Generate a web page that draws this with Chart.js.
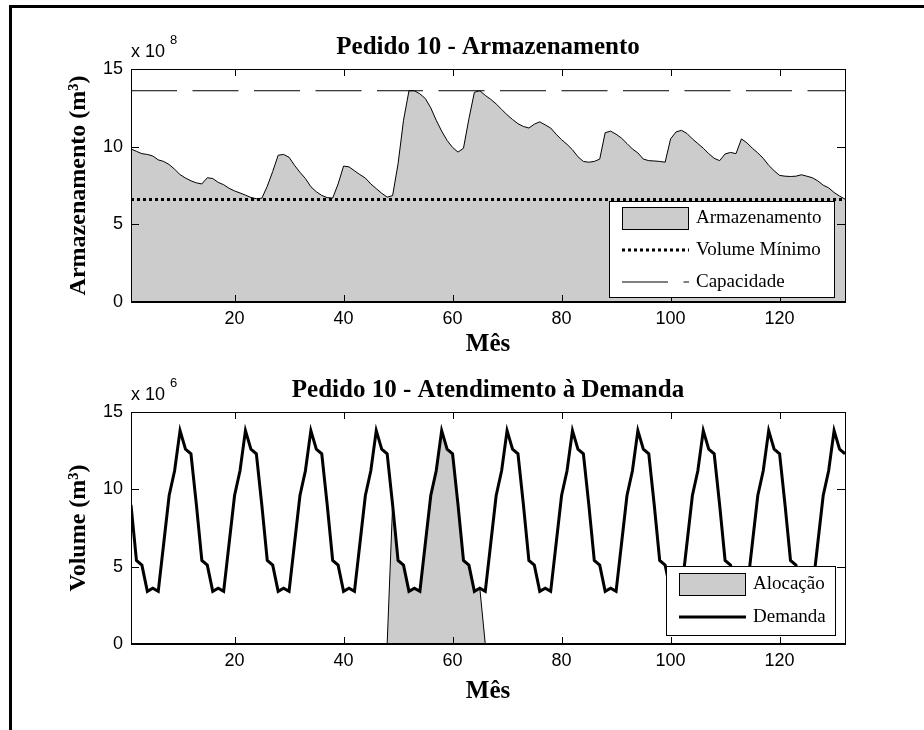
<!DOCTYPE html>
<html>
<head>
<meta charset="utf-8">
<title>Pedido 10</title>
<script src="https://cdn.jsdelivr.net/npm/chart.js@4.4.0/dist/chart.umd.min.js"></script>
<style>
  body { margin: 0; background: #fff; overflow: hidden; }
  #frame { position: absolute; left: 9px; top: 5px; width: 920px; height: 730px; border-top: 3px solid #000; border-left: 3px solid #000; }
  canvas { position: absolute; left: 0; }
  #storageChart { top: 0; }
  #demandChart { top: 365px; }
</style>
</head>
<body>
<div id="frame"></div>
<canvas id="storageChart" width="924" height="365"></canvas>
<canvas id="demandChart" width="924" height="365"></canvas>
<script>
// months 1..132
const months = Array.from({ length: 132 }, (_, i) => i + 1);
const xTicks = [20, 40, 60, 80, 100, 120];
const yTicks = [0, 5, 10, 15];

// storage, x 10^8 m3
const storage = [
  9.85, 9.7, 9.55, 9.5, 9.4, 9.15, 9.05, 8.85, 8.55, 8.2, 7.98, 7.8,
  7.67, 7.6, 8.0, 7.95, 7.7, 7.55, 7.32, 7.15, 7.02, 6.88, 6.73, 6.65,
  6.68, 7.45, 8.4, 9.45, 9.5, 9.32, 8.8, 8.35, 7.95, 7.42, 7.1, 6.86,
  6.72, 6.69, 7.6, 8.75, 8.7, 8.45, 8.2, 7.98, 7.6, 7.3, 7.0, 6.75,
  6.85, 8.9, 11.7, 13.6, 13.6, 13.4, 13.1, 12.5, 11.7, 11.0, 10.4, 9.95,
  9.65, 9.9, 11.8, 13.5, 13.6, 13.3, 13.05, 12.75, 12.4, 12.05, 11.75, 11.48,
  11.3, 11.2, 11.45, 11.6, 11.4, 11.2, 10.8, 10.45, 10.15, 9.8, 9.35, 9.05,
  9.0, 9.05, 9.2, 10.9, 11.0, 10.8, 10.55, 10.2, 9.85, 9.6, 9.2, 9.1,
  9.08, 9.05, 9.0, 10.5, 10.95, 11.05, 10.85, 10.5, 10.2, 9.9, 9.55, 9.25,
  9.1, 9.53, 9.63, 9.55, 10.5, 10.25, 9.9, 9.6, 9.25, 8.8, 8.45, 8.15,
  8.1, 8.08, 8.1, 8.19, 8.1, 8.0, 7.8, 7.52, 7.35, 7.05, 6.82, 6.62
];
const minVolume = 6.6;
const capacity = 13.6;

// demand and allocation, x 10^6 m3
const demand = [
  9.0, 5.4, 5.1, 3.4, 3.6, 3.4, 6.5, 9.6, 11.2, 13.8, 12.6, 12.3,
  9.0, 5.4, 5.1, 3.4, 3.6, 3.4, 6.5, 9.6, 11.2, 13.8, 12.6, 12.3,
  9.0, 5.4, 5.1, 3.4, 3.6, 3.4, 6.5, 9.6, 11.2, 13.8, 12.6, 12.3,
  9.0, 5.4, 5.1, 3.4, 3.6, 3.4, 6.5, 9.6, 11.2, 13.8, 12.6, 12.3,
  9.0, 5.4, 5.1, 3.4, 3.6, 3.4, 6.5, 9.6, 11.2, 13.8, 12.6, 12.3,
  9.0, 5.4, 5.1, 3.4, 3.6, 3.4, 6.5, 9.6, 11.2, 13.8, 12.6, 12.3,
  9.0, 5.4, 5.1, 3.4, 3.6, 3.4, 6.5, 9.6, 11.2, 13.8, 12.6, 12.3,
  9.0, 5.4, 5.1, 3.4, 3.6, 3.4, 6.5, 9.6, 11.2, 13.8, 12.6, 12.3,
  9.0, 5.4, 5.1, 3.4, 3.6, 3.4, 6.5, 9.6, 11.2, 13.8, 12.6, 12.3,
  9.0, 5.4, 5.1, 3.4, 3.6, 3.4, 6.5, 9.6, 11.2, 13.8, 12.6, 12.3,
  9.0, 5.4, 5.1, 3.4, 3.6, 3.4, 6.5, 9.6, 11.2, 13.8, 12.6, 12.3
];
const allocation = [
  0, 0, 0, 0, 0, 0, 0, 0, 0, 0, 0, 0,
  0, 0, 0, 0, 0, 0, 0, 0, 0, 0, 0, 0,
  0, 0, 0, 0, 0, 0, 0, 0, 0, 0, 0, 0,
  0, 0, 0, 0, 0, 0, 0, 0, 0, 0, 0, 0,
  9.0, 5.4, 5.1, 3.4, 3.6, 3.4, 6.5, 9.6, 11.2, 13.8, 12.6, 12.3,
  9.0, 5.4, 5.1, 3.4, 3.6, 0, 0, 0, 0, 0, 0, 0,
  0, 0, 0, 0, 0, 0, 0, 0, 0, 0, 0, 0,
  0, 0, 0, 0, 0, 0, 0, 0, 0, 0, 0, 0,
  0, 0, 0, 0, 0, 0, 0, 0, 0, 0, 0, 0,
  0, 0, 0, 0, 0, 0, 0, 0, 0, 0, 0, 0,
  0, 0, 0, 0, 0, 0, 0, 0, 0, 0, 0, 0
];

const serif = "'Liberation Serif', 'Times New Roman', serif";
const sans = "'Liberation Sans', Arial, sans-serif";
const gray = "#cccccc";

const toPoints = values => months.map((m, i) => ({ x: m, y: values[i] }));
const flatLine = v => [{ x: months[0], y: v }, { x: months[months.length - 1], y: v }];

// box, inward ticks, title, exponent and legend drawn like the matlab figure
const matlabAxes = {
  id: "matlabAxes",
  afterDatasetsDraw(chart, args, opts) {
    const { ctx, chartArea: a, scales: { x, y } } = chart;
    ctx.save();
    ctx.strokeStyle = "#000";
    ctx.lineWidth = 1;
    ctx.setLineDash([]);
    ctx.beginPath();
    xTicks.forEach(v => {
      const px = Math.round(x.getPixelForValue(v)) + 0.5;
      ctx.moveTo(px, a.bottom); ctx.lineTo(px, a.bottom - 7);
      ctx.moveTo(px, a.top); ctx.lineTo(px, a.top + 7);
    });
    yTicks.forEach(v => {
      const py = Math.round(y.getPixelForValue(v)) + 0.5;
      ctx.moveTo(a.left, py); ctx.lineTo(a.left + 8, py);
      ctx.moveTo(a.right, py); ctx.lineTo(a.right - 8, py);
    });
    ctx.stroke();
    ctx.strokeRect(a.left + 0.5, a.top + 0.5, a.right - a.left, a.bottom - a.top);
    ctx.lineWidth = 2;
    ctx.beginPath();
    ctx.moveTo(a.left, a.bottom);
    ctx.lineTo(a.right + 1, a.bottom);
    ctx.stroke();

    // title and exponent
    ctx.fillStyle = "#000";
    ctx.textBaseline = "alphabetic";
    ctx.textAlign = "center";
    ctx.font = "bold 25px " + serif;
    ctx.fillText(opts.title, (a.left + a.right) / 2, a.top - 15);
    ctx.textAlign = "left";
    ctx.font = "18px " + sans;
    ctx.fillText("x 10", a.left, a.top - 12);
    const w = ctx.measureText("x 10").width;
    ctx.font = "13px " + sans;
    ctx.fillText(opts.exponent, a.left + w + 5, a.top - 25);

    // legend
    const lg = opts.legend;
    const bx = a.right - lg.right - lg.width;
    const by = a.bottom - lg.bottom - lg.height;
    ctx.fillStyle = "#fff";
    ctx.fillRect(bx, by, lg.width, lg.height);
    ctx.lineWidth = 1;
    ctx.strokeStyle = "#000";
    ctx.strokeRect(bx + 0.5, by + 0.5, lg.width, lg.height);
    ctx.font = "19px " + serif;
    ctx.textBaseline = "middle";
    lg.rows.forEach(row => {
      const ds = chart.data.datasets[row.dataset];
      const cy = by + row.y;
      if (row.kind === "patch") {
        ctx.fillStyle = gray;
        ctx.fillRect(bx + 13, cy - 11, 67, 22);
        ctx.setLineDash([]);
        ctx.lineWidth = 1;
        ctx.strokeRect(bx + 13.5, cy - 10.5, 66, 22);
      } else {
        ctx.lineWidth = ds.borderWidth;
        ctx.setLineDash(ds.borderDash || []);
        ctx.beginPath();
        ctx.moveTo(bx + 13, cy);
        ctx.lineTo(bx + 80, cy);
        ctx.stroke();
        ctx.setLineDash([]);
      }
      ctx.fillStyle = "#000";
      ctx.fillText(ds.label, bx + lg.textX, cy);
    });
    ctx.restore();
  }
};

const xScale = (height, titlePad) => ({
  type: "linear",
  min: 1,
  max: 132,
  afterBuildTicks: s => { s.ticks = xTicks.map(v => ({ value: v })); },
  afterFit: s => { s.height = height; },
  grid: { display: false, drawTicks: false },
  border: { display: false },
  ticks: { color: "#000", font: { family: sans, size: 18 }, padding: 6, autoSkip: false, maxRotation: 0 },
  title: {
    display: true, text: "Mês", color: "#000",
    font: { family: serif, size: 25, weight: "bold", lineHeight: 1 },
    padding: { top: 0, bottom: titlePad }
  }
});

const yScale = label => ({
  min: 0,
  max: 15,
  afterBuildTicks: s => { s.ticks = yTicks.map(v => ({ value: v })); },
  afterFit: s => { s.width = 131; },
  grid: { display: false, drawTicks: false },
  border: { display: false },
  ticks: { color: "#000", font: { family: sans, size: 18 }, padding: 8 },
  title: {
    display: true, text: label, color: "#000",
    font: { family: serif, size: 24, weight: "bold", lineHeight: 1 },
    padding: { top: 67, bottom: 0 }
  }
});

const common = {
  responsive: false,
  animation: false,
  devicePixelRatio: 1,
  events: [],
  plugins: { legend: { display: false }, tooltip: { enabled: false } }
};

new Chart(document.getElementById("storageChart"), {
  type: "line",
  data: {
    datasets: [
      {
        label: "Armazenamento", data: toPoints(storage), order: 3,
        borderColor: "#000", borderWidth: 1, backgroundColor: gray, fill: "origin",
        pointRadius: 0, tension: 0
      },
      {
        label: "Volume Mínimo", data: flatLine(minVolume), order: 1,
        borderColor: "#000", borderWidth: 3, borderDash: [3, 3], borderCapStyle: "butt",
        pointRadius: 0, fill: false
      },
      {
        label: "Capacidade", data: flatLine(capacity), order: 2,
        borderColor: "#000", borderWidth: 1, borderDash: [46, 15.5],
        pointRadius: 0, fill: false
      }
    ]
  },
  options: {
    ...common,
    layout: { padding: { top: 69, right: 79, left: 0, bottom: 0 } },
    scales: { x: xScale(63, 8), y: yScale("Armazenamento (m³)") },
    plugins: {
      ...common.plugins,
      matlabAxes: {
        title: "Pedido 10 - Armazenamento",
        exponent: "8",
        legend: {
          right: 11, bottom: 5, width: 225, height: 96, textX: 87,
          rows: [
            { dataset: 0, kind: "patch", y: 17 },
            { dataset: 1, kind: "line", y: 49 },
            { dataset: 2, kind: "line", y: 81 }
          ]
        }
      }
    }
  },
  plugins: [matlabAxes]
});

new Chart(document.getElementById("demandChart"), {
  type: "line",
  data: {
    datasets: [
      {
        label: "Alocação", data: toPoints(allocation), order: 2,
        borderColor: "#000", borderWidth: 1, backgroundColor: gray, fill: "origin",
        pointRadius: 0, tension: 0
      },
      {
        label: "Demanda", data: toPoints(demand), order: 1,
        borderColor: "#000", borderWidth: 3, fill: false,
        pointRadius: 0, tension: 0
      }
    ]
  },
  options: {
    ...common,
    layout: { padding: { top: 47, right: 79, left: 0, bottom: 0 } },
    scales: { x: xScale(86, 26), y: yScale("Volume (m³)") },
    plugins: {
      ...common.plugins,
      matlabAxes: {
        title: "Pedido 10 - Atendimento à Demanda",
        exponent: "6",
        legend: {
          right: 10, bottom: 9, width: 169, height: 69, textX: 87,
          rows: [
            { dataset: 0, kind: "patch", y: 18 },
            { dataset: 1, kind: "line", y: 51 }
          ]
        }
      }
    }
  },
  plugins: [matlabAxes]
});
</script>
</body>
</html>
